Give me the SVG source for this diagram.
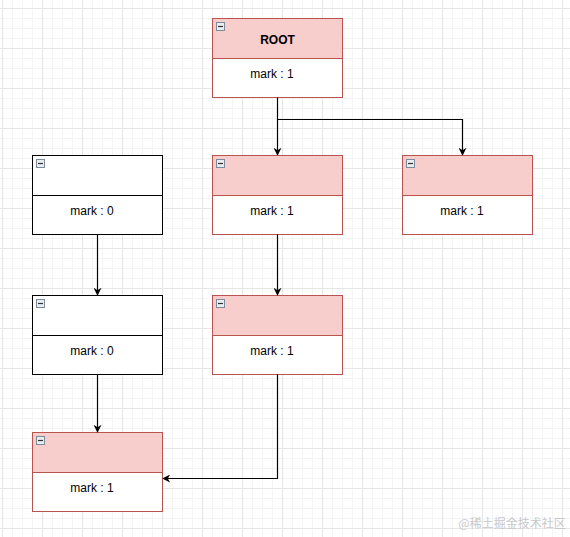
<svg xmlns="http://www.w3.org/2000/svg" width="570" height="537" viewBox="0 0 570 537">
  <defs>
    <pattern id="minor" width="10" height="10" patternUnits="userSpaceOnUse" x="2" y="8">
      <path d="M0 0.5H10M0.5 0V10" fill="none" stroke="#f4f4f4" stroke-width="1"/>
    </pattern>
    <pattern id="major" width="40" height="40" patternUnits="userSpaceOnUse" x="2" y="8">
      <path d="M0 0.5H40M0.5 0V40" fill="none" stroke="#e6e6e6" stroke-width="1"/>
    </pattern>
    <marker id="arr" viewBox="0 0 10 10" refX="9" refY="5" markerWidth="8" markerHeight="8" markerUnits="userSpaceOnUse" orient="auto">
      <path d="M0 0L10 5L0 10L3 5Z" fill="#000"/>
    </marker>
    <g id="icon">
      <rect x="0.5" y="0.5" width="8" height="8" fill="#e8edf2" stroke="#7d8a99" stroke-width="1"/>
      <path d="M2 4.5H7" stroke="#333" stroke-width="1.2"/>
    </g>
  </defs>
  <style>
    .hdr-pink { fill: #f8cecc; stroke: #b85450; }
    .hdr-white { fill: #ffffff; stroke: #000000; }
    .body-pink { fill: #ffffff; stroke: #b85450; }
    .body-white { fill: #ffffff; stroke: #000000; }
    .lbl { font-family: "Liberation Sans", Arial, sans-serif; font-size: 12px; fill: #000; text-anchor: middle; }
    .title { font-weight: bold; }
    .edge { fill: none; stroke: #000; stroke-width: 1.2; }
  </style>
  <rect width="570" height="537" fill="#ffffff"/>
  <rect width="570" height="537" fill="url(#minor)"/>
  <rect width="570" height="537" fill="url(#major)"/>

  <g id="root">
    <rect class="hdr-pink" x="212.5" y="18.5" width="130" height="40"/>
    <rect class="body-pink" x="212.5" y="58.5" width="130" height="39"/>
    <use href="#icon" x="216" y="22"/>
    <text class="lbl title" x="277.5" y="44">ROOT</text>
    <text class="lbl" x="272" y="78">mark : 1</text>
  </g>

  <g id="nodeA">
    <rect class="hdr-white" x="32.5" y="155.5" width="130" height="40"/>
    <rect class="body-white" x="32.5" y="195.5" width="130" height="39"/>
    <use href="#icon" x="36" y="159"/>
    <text class="lbl" x="92" y="215">mark : 0</text>
  </g>

  <g id="nodeB">
    <rect class="hdr-pink" x="212.5" y="155.5" width="130" height="40"/>
    <rect class="body-pink" x="212.5" y="195.5" width="130" height="39"/>
    <use href="#icon" x="216" y="159"/>
    <text class="lbl" x="272" y="215">mark : 1</text>
  </g>

  <g id="nodeC">
    <rect class="hdr-pink" x="402.5" y="155.5" width="130" height="40"/>
    <rect class="body-pink" x="402.5" y="195.5" width="130" height="39"/>
    <use href="#icon" x="406" y="159"/>
    <text class="lbl" x="462" y="215">mark : 1</text>
  </g>

  <g id="nodeD">
    <rect class="hdr-white" x="32.5" y="295.5" width="130" height="40"/>
    <rect class="body-white" x="32.5" y="335.5" width="130" height="39"/>
    <use href="#icon" x="36" y="299"/>
    <text class="lbl" x="92" y="355">mark : 0</text>
  </g>

  <g id="nodeE">
    <rect class="hdr-pink" x="212.5" y="295.5" width="130" height="40"/>
    <rect class="body-pink" x="212.5" y="335.5" width="130" height="39"/>
    <use href="#icon" x="216" y="299"/>
    <text class="lbl" x="272" y="355">mark : 1</text>
  </g>

  <g id="nodeF">
    <rect class="hdr-pink" x="32.5" y="432.5" width="130" height="40"/>
    <rect class="body-pink" x="32.5" y="472.5" width="130" height="39"/>
    <use href="#icon" x="36" y="436"/>
    <text class="lbl" x="92" y="492">mark : 1</text>
  </g>

  <g id="connectors">
    <path class="edge" d="M277.5 97.5V155" marker-end="url(#arr)"/>
    <path class="edge" d="M277.5 119.5H462.5V155" marker-end="url(#arr)"/>
    <path class="edge" d="M97.5 234.5V295" marker-end="url(#arr)"/>
    <path class="edge" d="M277.5 234.5V295" marker-end="url(#arr)"/>
    <path class="edge" d="M97.5 374.5V432" marker-end="url(#arr)"/>
    <path class="edge" d="M277.5 374.5V478.5H163" marker-end="url(#arr)"/>
  </g>

  <text x="512" y="528" font-family="'Noto Sans CJK SC', sans-serif" font-size="12" fill="#c8c8c8" text-anchor="middle">@稀土掘金技术社区</text>
</svg>
